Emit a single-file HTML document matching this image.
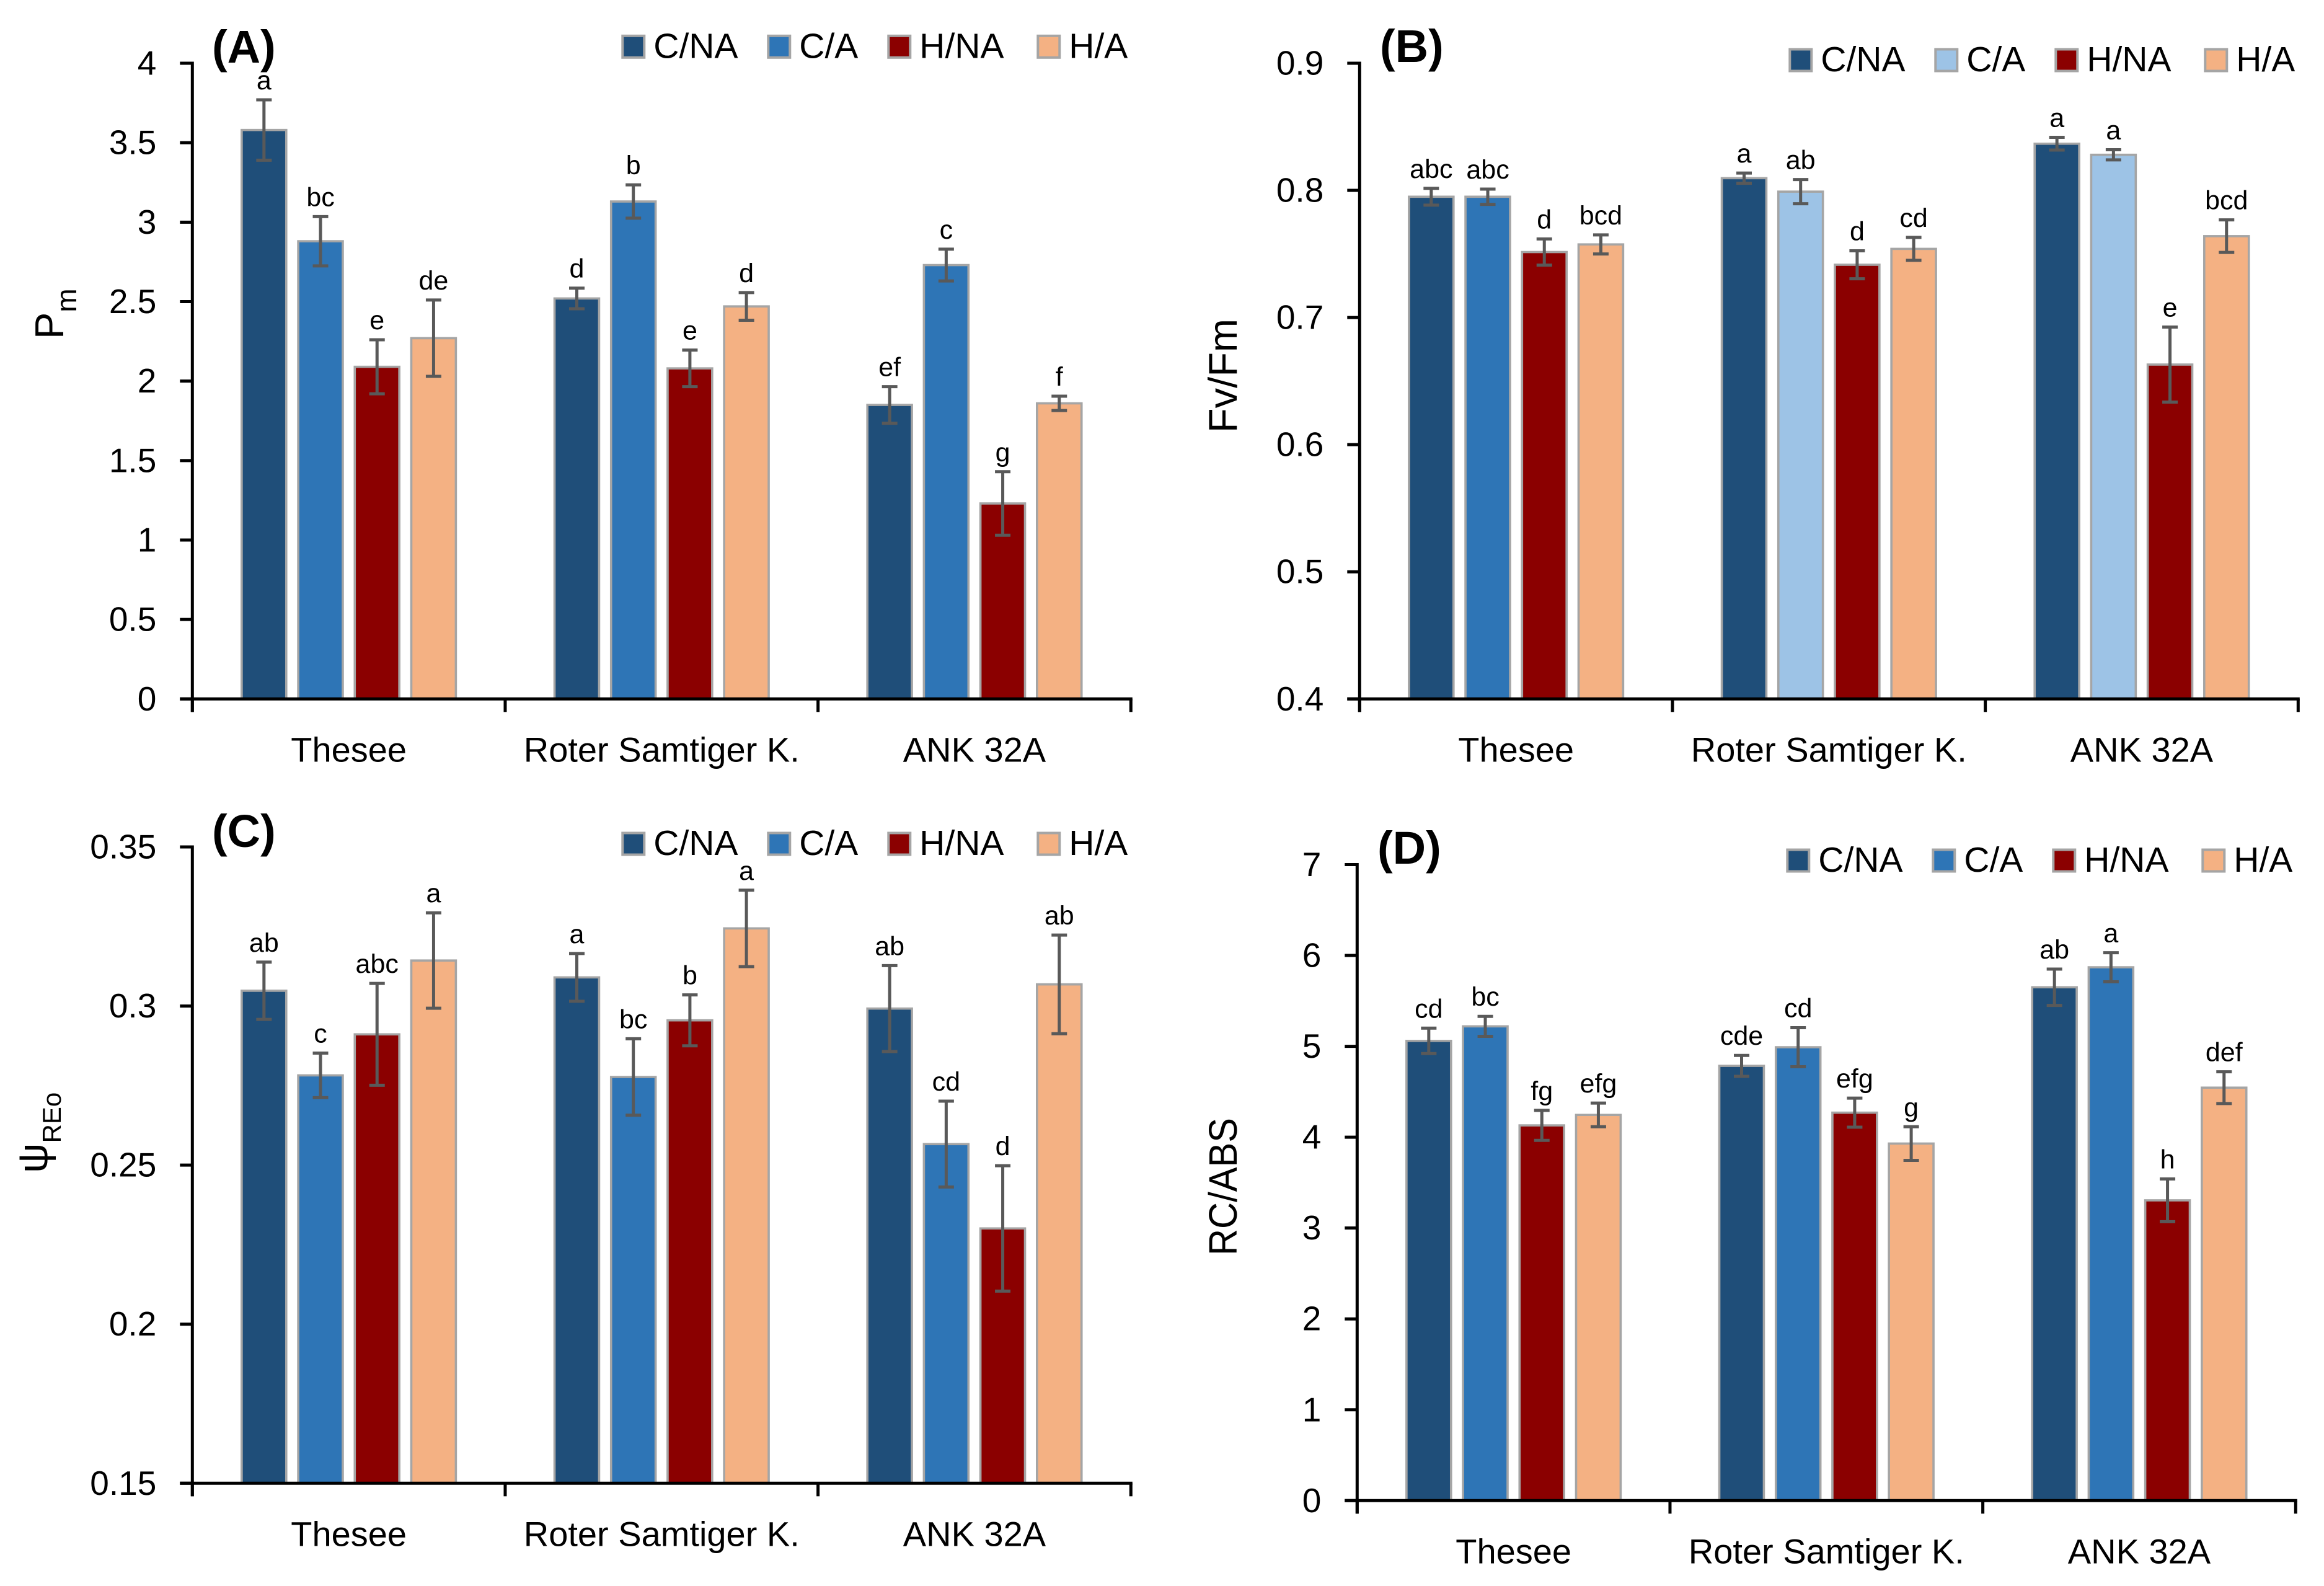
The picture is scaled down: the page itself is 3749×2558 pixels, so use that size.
<!DOCTYPE html>
<html lang="en">
<head>
<meta charset="utf-8">
<title>Photosynthetic parameters by cultivar and treatment</title>
<style>
  html, body { margin: 0; padding: 0; background: #ffffff; }
  svg { display: block; }
  text { font-family: "Liberation Sans", sans-serif; fill: #000000; }
  .panel-letter { font-size: 74px; font-weight: bold; }
  .axis-title { font-size: 65px; }
  .tick-label { font-size: 55px; }
  .category-label { font-size: 56px; }
  .legend-label { font-size: 57px; }
  .sig-letter { font-size: 43px; }
</style>
</head>
<body>
<svg id="figure" xmlns="http://www.w3.org/2000/svg" width="3749" height="2558" viewBox="0 0 3749 2558">
  <rect x="0" y="0" width="3749" height="2558" fill="#ffffff"/>

  <g id="panel-a"></g>
  <g id="panel-b"></g>
  <g id="panel-c"></g>
  <g id="panel-d"></g>

  <text class="panel-letter" x="342" y="101">(A)</text>
  <text class="panel-letter" x="2226" y="100">(B)</text>
  <text class="panel-letter" x="342" y="1366">(C)</text>
  <text class="panel-letter" x="2222" y="1393">(D)</text>

  <text class="axis-title" transform="translate(102 547) rotate(-90)">P<tspan font-size="46" dy="21">m</tspan></text>
  <text class="axis-title" text-anchor="middle" transform="translate(1995 606) rotate(-90)">Fv/Fm</text>
  <text class="axis-title" transform="translate(76 1892) rotate(-90)"><tspan font-size="68">ψ</tspan><tspan font-size="42" dy="22">REo</tspan></text>
  <text class="axis-title" text-anchor="middle" style="font-size:64px" textLength="222" lengthAdjust="spacingAndGlyphs" transform="translate(1995 1914) rotate(-90)">RC/ABS</text>
</svg>

<script>
// Shared categories and series
const categories = ['Thesee', 'Roter Samtiger K.', 'ANK 32A'];
const seriesNames = ['C/NA', 'C/A', 'H/NA', 'H/A'];
const seriesColors = ['#1F4E79', '#2E75B6', '#8B0000', '#F4B183'];
const seriesColorsB = ['#1F4E79', '#9DC3E6', '#8B0000', '#F4B183'];

// Panel A: Pm
const pmTicks = ['0', '0.5', '1', '1.5', '2', '2.5', '3', '3.5', '4'];
const pmMeans = [[3.58, 2.88, 2.09, 2.27], [2.52, 3.13, 2.08, 2.47], [1.85, 2.73, 1.23, 1.86]];
const pmErrors = [[0.19, 0.155, 0.17, 0.24], [0.065, 0.105, 0.115, 0.087], [0.115, 0.1, 0.2, 0.045]];
const pmLetters = [['a', 'bc', 'e', 'de'], ['d', 'b', 'e', 'd'], ['ef', 'c', 'g', 'f']];

// Panel B: Fv/Fm
const fvTicks = ['0.4', '0.5', '0.6', '0.7', '0.8', '0.9'];
const fvMeans = [[0.795, 0.795, 0.7515, 0.7575], [0.8096, 0.799, 0.7415, 0.754], [0.8367, 0.828, 0.663, 0.764]];
const fvErrors = [[0.0066, 0.006, 0.0103, 0.0075], [0.004, 0.0095, 0.011, 0.009], [0.005, 0.004, 0.0295, 0.0128]];
const fvLetters = [['abc', 'abc', 'd', 'bcd'], ['a', 'ab', 'd', 'cd'], ['a', 'a', 'e', 'bcd']];
// In panel B only the Thesee C/A bar uses the darker blue of the other panels
const fvBarColors = [seriesColors, seriesColorsB, seriesColorsB];

// Panel C: psi REo
const psiTicks = ['0.15', '0.2', '0.25', '0.3', '0.35'];
const psiMeans = [[0.3048, 0.2782, 0.2911, 0.3143], [0.309, 0.2777, 0.2955, 0.3244], [0.2992, 0.2566, 0.2301, 0.3068]];
const psiErrors = [[0.009, 0.007, 0.016, 0.015], [0.0075, 0.012, 0.008, 0.012], [0.0135, 0.0135, 0.0197, 0.0155]];
const psiLetters = [['ab', 'c', 'abc', 'a'], ['a', 'bc', 'b', 'a'], ['ab', 'cd', 'd', 'ab']];

// Panel D: RC/ABS
const rcTicks = ['0', '1', '2', '3', '4', '5', '6', '7'];
const rcMeans = [[5.06, 5.22, 4.13, 4.245], [4.785, 4.99, 4.27, 3.93], [5.65, 5.87, 3.305, 4.545]];
const rcErrors = [[0.14, 0.11, 0.165, 0.13], [0.115, 0.215, 0.16, 0.185], [0.2, 0.16, 0.235, 0.175]];
const rcLetters = [['cd', 'bc', 'fg', 'efg'], ['cde', 'cd', 'efg', 'g'], ['ab', 'a', 'h', 'def']];

const SVG_NS = 'http://www.w3.org/2000/svg';

function make(parent, tag, attrs, content) {
  const node = document.createElementNS(SVG_NS, tag);
  for (const key in attrs) node.setAttribute(key, attrs[key]);
  if (content !== undefined) node.textContent = content;
  parent.appendChild(node);
  return node;
}

function drawPanel(groupId, frame, ticks, means, errors, letters, colors, barColors) {
  const root = document.getElementById(groupId);
  const tickValues = ticks.map(Number);
  const domainMin = tickValues[0];
  const domainMax = tickValues[tickValues.length - 1];
  const yScale = function (v) {
    return frame.bottom - (v - domainMin) / (domainMax - domainMin) * (frame.bottom - frame.top);
  };
  const groupWidth = (frame.right - frame.left) / categories.length;
  const outerBar = 75.5;
  const barPitch = 91.2;
  const barStroke = 3.6;
  const groupMargin = (groupWidth - (outerBar + barPitch * (seriesNames.length - 1))) / 2;
  const xScale = function (c, s) {
    return frame.left + c * groupWidth + groupMargin + s * barPitch;
  };

  // Bars
  means.forEach(function (row, c) {
    row.forEach(function (value, s) {
      const top = yScale(value);
      const bar = make(root, 'rect', {
        x: xScale(c, s) + barStroke / 2,
        y: top,
        width: outerBar - barStroke,
        height: frame.bottom - top,
        fill: barColors ? barColors[c][s] : colors[s],
        stroke: '#A5A5A5',
        'stroke-width': barStroke
      });
      
      
    });
  });

  // Error bars and significance letters
  means.forEach(function (row, c) {
    row.forEach(function (value, s) {
      const cx = xScale(c, s) + outerBar / 2;
      const hi = yScale(value + errors[c][s]);
      const lo = yScale(value - errors[c][s]);
      const err = make(root, 'path', {
        d: 'M' + cx + ' ' + hi + 'V' + lo + 'M' + (cx - 12.5) + ' ' + hi + 'H' + (cx + 12.5) + 'M' + (cx - 12.5) + ' ' + lo + 'H' + (cx + 12.5),
        fill: 'none',
        stroke: '#595959',
        'stroke-width': 5
      });
      
      
      const letter = make(root, 'text', {
        class: 'sig-letter',
        x: cx,
        y: hi - 17,
        'text-anchor': 'middle'
      }, letters[c][s]);
      
      
    });
  });

  // Y axis
  const yAxis = make(root, 'line', {
    x1: frame.left, y1: frame.top - 2.5, x2: frame.left, y2: frame.bottom + 21,
    stroke: '#000000', 'stroke-width': 5
  });
  
  

  tickValues.forEach(function (value, i) {
    const y = yScale(value);
    const mark = make(root, 'line', {
      x1: frame.left - 20, y1: y, x2: frame.left, y2: y,
      stroke: '#000000', 'stroke-width': 5
    });
    
    
    const label = make(root, 'text', {
      class: 'tick-label',
      x: frame.left - 58,
      y: y + 18.5,
      'text-anchor': 'end'
    }, ticks[i]);
    
    
  });

  // X axis
  const xAxis = make(root, 'line', {
    x1: frame.left - 20, y1: frame.bottom, x2: frame.right + 2.5, y2: frame.bottom,
    stroke: '#000000', 'stroke-width': 5
  });
  
  

  for (let i = 0; i <= categories.length; i++) {
    const x = frame.left + i * groupWidth;
    const mark = make(root, 'line', {
      x1: x, y1: frame.bottom, x2: x, y2: frame.bottom + 21,
      stroke: '#000000', 'stroke-width': 5
    });
    
    
  }

  categories.forEach(function (name, c) {
    const label = make(root, 'text', {
      class: 'category-label',
      x: frame.left + (c + 0.5) * groupWidth,
      y: frame.bottom + 101,
      'text-anchor': 'middle'
    }, name);
    
    
  });

  // Legend
  const swatchOffsets = [692, 927, 1121, 1362];
  seriesNames.forEach(function (name, s) {
    const entry = make(root, 'g', {});
    
    
    const sx = frame.left + swatchOffsets[s];
    const swatch = make(entry, 'rect', {
      x: sx + 2,
      y: frame.legendY - 17.5,
      width: 35,
      height: 35,
      fill: colors[s],
      stroke: '#A5A5A5',
      'stroke-width': 4
    });
    
    
    const text = make(entry, 'text', {
      class: 'legend-label',
      x: sx + 52,
      y: frame.legendY + 18
    }, name);
    
    
  });
}

drawPanel('panel-a', { left: 310.3, right: 1824.3, top: 102, bottom: 1127.3, legendY: 75.3 }, pmTicks, pmMeans, pmErrors, pmLetters, seriesColors);
drawPanel('panel-b', { left: 2193.3, right: 3707.3, top: 102, bottom: 1127.3, legendY: 97 }, fvTicks, fvMeans, fvErrors, fvLetters, seriesColorsB, fvBarColors);
drawPanel('panel-c', { left: 310.3, right: 1824.3, top: 1366, bottom: 2392.3, legendY: 1361 }, psiTicks, psiMeans, psiErrors, psiLetters, seriesColors);
drawPanel('panel-d', { left: 2189.3, right: 3703.3, top: 1394.5, bottom: 2420.3, legendY: 1388 }, rcTicks, rcMeans, rcErrors, rcLetters, seriesColors);
</script>
</body>
</html>
